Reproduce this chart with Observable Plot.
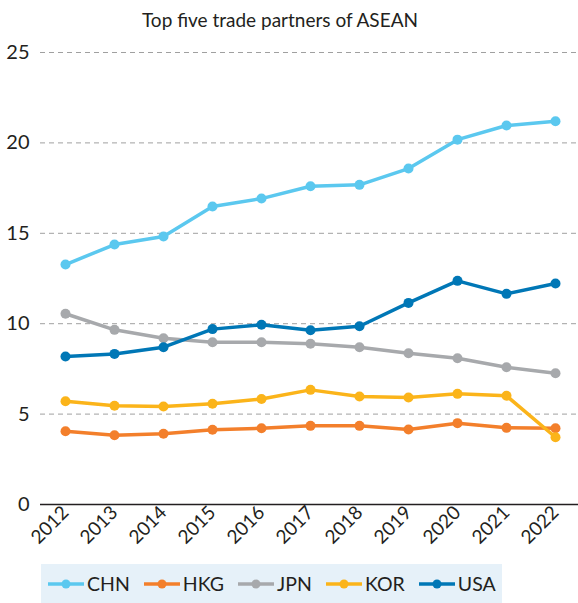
<!DOCTYPE html>
<html>
<head>
<meta charset="utf-8">
<script src="https://cdn.jsdelivr.net/npm/d3@7"></script>
<script src="https://cdn.jsdelivr.net/npm/@observablehq/plot@0.6"></script>
<style>
  html, body { margin: 0; padding: 0; background: #fff; }
  body { width: 578px; height: 603px; overflow: hidden; font-family: Lato, sans-serif; color: #231f20; position: relative; }
  #title { height: 40px; line-height: 40px; text-align: center; font-size: 19px; padding-right: 18px; box-sizing: border-box; }
  #chart svg { display: block; }
  #legend { position: absolute; left: 41px; top: 564px; width: 461px; height: 39px; box-sizing: border-box; padding-left: 7px; background: #e6f1f9; display: flex; align-items: center; justify-content: flex-start; font-size: 19.5px; }
  .item { display: flex; align-items: center; margin-right: 14px; }
  .item svg { margin-right: 3px; }
</style>
</head>
<body>
<div id="title">Top five trade partners of ASEAN</div>
<div id="chart"></div>
<div id="legend"></div>
<script>
const years = [2012, 2013, 2014, 2015, 2016, 2017, 2018, 2019, 2020, 2021, 2022];
const seriesNames = ["CHN", "HKG", "JPN", "KOR", "USA"];
const seriesColors = ["#5bc8ef", "#f37f2b", "#a7a9ac", "#fbb41a", "#0077b6"];
const CHN = [13.27, 14.38, 14.82, 16.48, 16.92, 17.6, 17.68, 18.58, 20.18, 20.96, 21.2];
const HKG = [4.05, 3.83, 3.91, 4.13, 4.22, 4.35, 4.35, 4.15, 4.5, 4.24, 4.22];
const JPN = [10.55, 9.66, 9.2, 8.97, 8.97, 8.89, 8.7, 8.37, 8.09, 7.59, 7.26];
const KOR = [5.71, 5.46, 5.42, 5.57, 5.84, 6.34, 5.97, 5.92, 6.12, 6.01, 3.72];
const USA = [8.19, 8.33, 8.7, 9.7, 9.94, 9.64, 9.86, 11.15, 12.37, 11.65, 12.22];
const yTicks = [0, 5, 10, 15, 20, 25];

const seriesValues = { CHN, HKG, JPN, KOR, USA };
const rows = seriesNames.flatMap(name => years.map((year, i) => ({ name, year, value: seriesValues[name][i] })));

const plot = Plot.plot({
  width: 578,
  height: 520,
  marginTop: 12,
  marginLeft: 40,
  marginRight: 0,
  marginBottom: 56,
  style: { fontFamily: "Lato, sans-serif", fontSize: "20px", color: "#231f20", background: "#fff" },
  x: { type: "linear", domain: [2012, 2022], insetLeft: 25, insetRight: 23 },
  y: { domain: [0, 25] },
  color: { domain: seriesNames, range: seriesColors },
  marks: [
    Plot.ruleY(yTicks.filter(d => d > 0), { stroke: "#a0a0a0", strokeWidth: 1, strokeDasharray: "5,4" }),
    Plot.ruleY([0], { stroke: "#231f20", strokeWidth: 1.5 }),
    Plot.axisY({ ticks: yTicks, tickSize: 0, tickPadding: 11, label: null, fontSize: 20 }),
    Plot.axisX({ ticks: years, tickFormat: d => String(d), tickSize: 0, tickPadding: 5, tickRotate: -45, label: null, fontSize: 19 }),
    Plot.line(rows, { x: "year", y: "value", z: "name", stroke: "name", strokeWidth: 3.5 }),
    Plot.dot(rows, { x: "year", y: "value", fill: "name", r: 5 })
  ]
});
document.getElementById("chart").appendChild(plot);

const legend = document.getElementById("legend");
seriesNames.forEach((name, i) => {
  const item = document.createElement("div");
  item.className = "item";
  const c = seriesColors[i];
  item.innerHTML = `<svg width="36" height="14"><line x1="0" x2="36" y1="7" y2="7" stroke="${c}" stroke-width="3.5"/><circle cx="18" cy="7" r="4.5" fill="${c}"/></svg><span>${name}</span>`;
  legend.appendChild(item);
});
</script>
</body>
</html>
